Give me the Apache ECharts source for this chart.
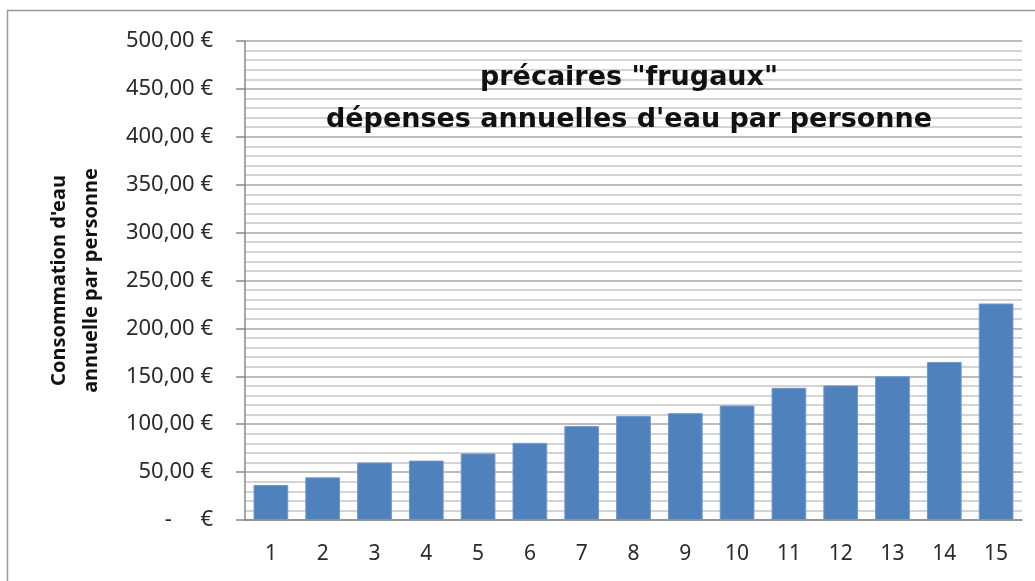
<!DOCTYPE html>
<html>
<head>
<meta charset="utf-8">
<script src="https://cdn.jsdelivr.net/npm/echarts@6/dist/echarts.min.js"></script>
<style>
  html, body { margin: 0; padding: 0; background: #fff; }
  #main { width: 1035px; height: 581px; }
</style>
</head>
<body>
<div id="main"></div>
<script>
var categories = ['1', '2', '3', '4', '5', '6', '7', '8', '9', '10', '11', '12', '13', '14', '15'];
var depenses = [36.5, 44.5, 60, 62, 69.5, 80.5, 98, 108.5, 111.5, 119.5, 138, 140.5, 150, 165, 226];
var titre = 'précaires "frugaux"\ndépenses annuelles d\'eau par personne';
var nomAxe = 'Consommation d\'eau\nannuelle par personne';

var myChart = echarts.init(document.getElementById('main'));
option = {
    animation: false,
    backgroundColor: '#fff',
    title: {
        text: titre,
        left: 624,
        top: 52,
        textAlign: 'center',
        textStyle: {
            fontFamily: 'DejaVu Sans',
            fontWeight: 'bold',
            fontSize: 27,
            lineHeight: 42,
            color: '#111'
        }
    },
    graphic: [
        {
            type: 'rect',
            shape: { x: 7.5, y: 10.5, width: 1040, height: 600 },
            style: { fill: 'none', stroke: '#999', lineWidth: 1.5 },
            silent: true
        }
    ],
    grid: {
        left: 245,
        right: 13,
        top: 41,
        bottom: 61
    },
    xAxis: {
        type: 'category',
        data: categories,
        axisLine: { lineStyle: { color: '#888', width: 1.5 } },
        axisTick: { show: false },
        axisLabel: {
            margin: 24,
            fontFamily: 'Noto Sans',
            fontSize: 21,
            color: '#2a2a2a'
        }
    },
    yAxis: {
        type: 'value',
        min: 0,
        max: 500,
        interval: 50,
        name: nomAxe,
        nameLocation: 'middle',
        nameGap: 138,
        nameTextStyle: {
            fontFamily: 'Noto Sans',
            fontWeight: 'bold',
            fontSize: 20,
            lineHeight: 32,
            color: '#111'
        },
        axisLine: { show: true, lineStyle: { color: '#888', width: 1.5 } },
        axisTick: { show: true, length: 9, lineStyle: { color: '#888', width: 1.5 } },
        axisLabel: {
            margin: 32,
            fontFamily: 'Noto Sans',
            fontSize: 22,
            color: '#2a2a2a',
            formatter: function (v) {
                if (v === 0) return '-     €';
                return v.toFixed(2).replace('.', ',') + ' €';
            }
        },
        splitLine: { show: true, lineStyle: { color: '#a6a6a6', width: 1.5 } },
        minorTick: { show: false, splitNumber: 5 },
        minorSplitLine: { show: true, lineStyle: { color: '#d4d4d4', width: 2 } }
    },
    series: [
        {
            type: 'bar',
            data: depenses,
            barWidth: '67%',
            itemStyle: {
                color: '#4f81bd',
                borderColor: '#6f98cb',
                borderWidth: 1
            }
        }
    ]
};
myChart.setOption(option);
</script>
</body>
</html>
